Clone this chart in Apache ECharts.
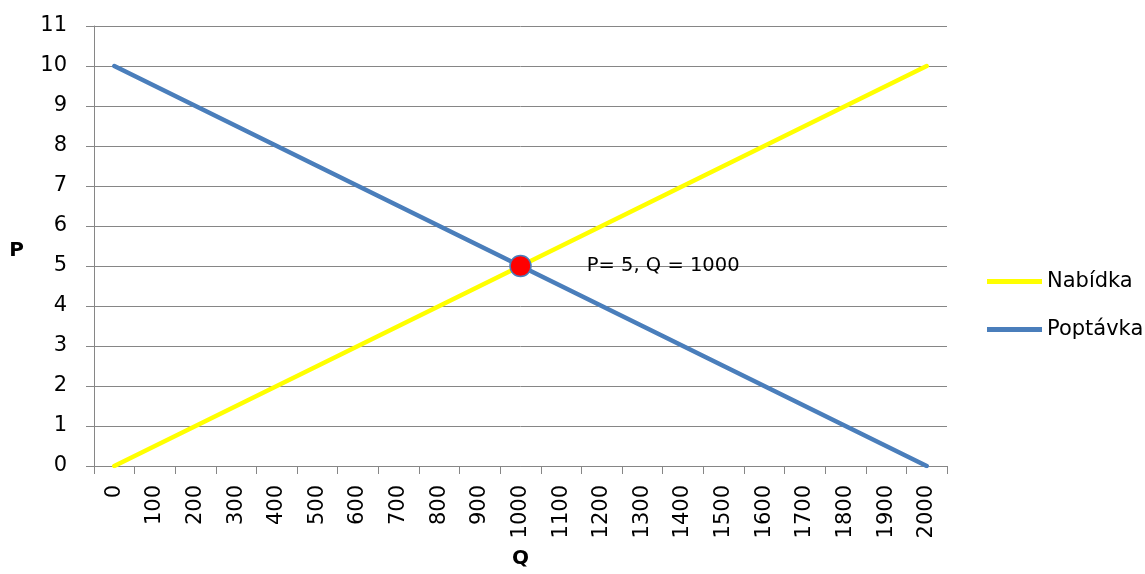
<!DOCTYPE html>
<html>
<head>
<meta charset="utf-8">
<script src="https://cdn.jsdelivr.net/npm/echarts@6/dist/echarts.min.js"></script>
<style>
html,body{margin:0;padding:0;background:#fff;}
#chart{width:1145px;height:574px;}
</style>
</head>
<body>
<div id="chart"></div>
<script>
const categories = ['0','100','200','300','400','500','600','700','800','900','1000','1100','1200','1300','1400','1500','1600','1700','1800','1900','2000'];
const nabidka = [0,0.5,1,1.5,2,2.5,3,3.5,4,4.5,5,5.5,6,6.5,7,7.5,8,8.5,9,9.5,10];
const poptavka = [10,9.5,9,8.5,8,7.5,7,6.5,6,5.5,5,4.5,4,3.5,3,2.5,2,1.5,1,0.5,0];
const equilibrium = [['1000', 5]];
const equilibriumLabel = 'P= 5, Q = 1000';
const yTicks = [0,1,2,3,4,5,6,7,8,9,10,11];

const FONT = 'DejaVu Sans';
const GRAY = '#868686';
const chart = echarts.init(document.getElementById('chart'), null, {renderer:'canvas'});
chart.setOption({
  animation:false,
  backgroundColor:'#fff',
  textStyle:{fontFamily:FONT,color:'#000'},
  grid:{left:94,right:198,top:26,bottom:108,containLabel:false,outerBoundsMode:'none'},
  legend:{
    orient:'vertical', left:987, top:271, padding:0,
    itemWidth:55, itemHeight:5, itemGap:27, icon:'rect',
    textStyle:{fontFamily:FONT,fontSize:21,color:'#000'},
    data:['Nabídka','Poptávka']
  },
  xAxis:{
    type:'category', data:categories, boundaryGap:true,
    name:'Q', nameLocation:'middle', nameGap:83, nameMoveOverlap:false,
    nameTextStyle:{fontFamily:FONT,fontSize:20,fontWeight:'bold',color:'#000'},
    axisLine:{lineStyle:{color:GRAY,width:1}},
    axisTick:{show:true,length:8,lineStyle:{color:GRAY}},
    axisLabel:{rotate:90,margin:19,fontFamily:FONT,fontSize:21,color:'#000',interval:0},
    splitLine:{show:false}
  },
  yAxis:{
    type:'value', min:yTicks[0], max:yTicks[yTicks.length-1], interval:1,
    name:'P', nameLocation:'middle', nameRotate:0, nameGap:70, nameMoveOverlap:false,
    nameTextStyle:{fontFamily:FONT,fontSize:20,fontWeight:'bold',color:'#000',verticalAlign:'top',lineHeight:10},
    axisLine:{show:true,lineStyle:{color:GRAY,width:1}},
    axisTick:{show:true,length:8,lineStyle:{color:GRAY}},
    axisLabel:{margin:27,fontFamily:FONT,fontSize:21,color:'#000'},
    splitLine:{show:true,lineStyle:{color:GRAY,width:1}}
  },
  series:[
    {name:'Nabídka',type:'line',data:nabidka,showSymbol:false,symbol:'none',
     itemStyle:{color:'#FFFF00'},lineStyle:{color:'#FFFF00',width:4.5,cap:'round'},z:2},
    {name:'Poptávka',type:'line',data:poptavka,showSymbol:false,symbol:'none',
     itemStyle:{color:'#4A7EBB'},lineStyle:{color:'#4A7EBB',width:4.5,cap:'round'},z:3},
    {name:'Rovnováha',type:'scatter',data:equilibrium,symbol:'circle',symbolSize:21,
     itemStyle:{color:'#FF0000',opacity:1,borderColor:'#4A7EBB',borderWidth:1.5},z:5,
     label:{show:true,position:'right',distance:55,formatter:equilibriumLabel,
       fontFamily:FONT,fontSize:19.5,color:'#000'}}
  ]
});
</script>
</body>
</html>
